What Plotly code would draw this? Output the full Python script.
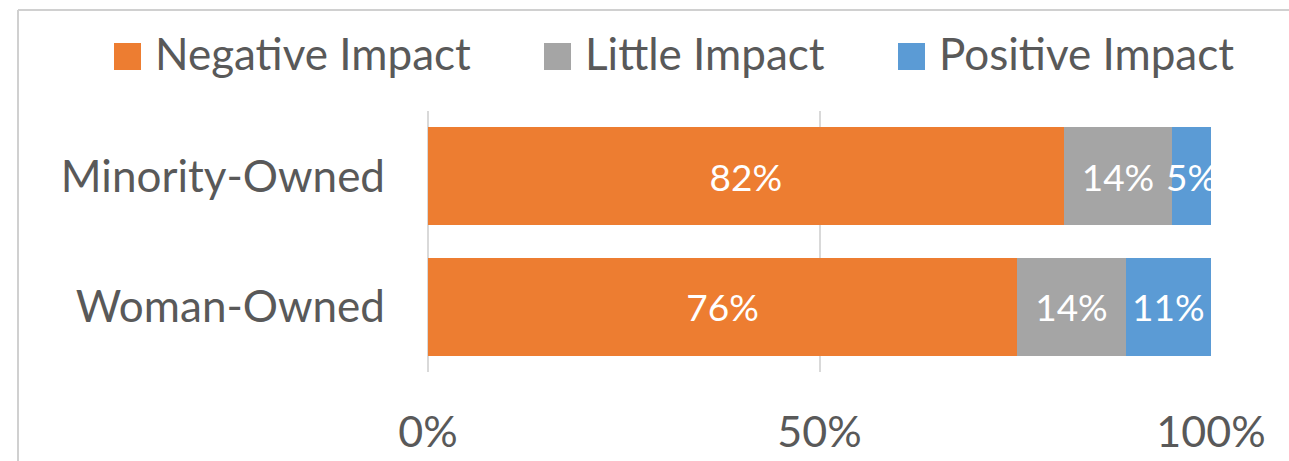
import plotly.graph_objects as go

# Survey results: share of firms reporting each impact, by ownership type
categories = ["Minority-Owned", "Woman-Owned"]
series_names = ["Negative Impact", "Little Impact", "Positive Impact"]
negative = [82, 76]
little = [14, 14]
positive = [5, 11]
x_tick_vals = [0, 50, 100]
x_tick_text = ["0%", "50%", "100%"]

colors = ["#ED7D31", "#A5A5A5", "#5B9BD5"]
text_color = "#595959"
grid_color = "#D9D9D9"
font_family = "Lato, 'Open Sans', sans-serif"

# page geometry (pixels)
W, H = 1289, 461
M_L, M_R, M_T, M_B = 428, 78, 111, 89
PW, PH = W - M_L - M_R, H - M_T - M_B


def paper_x(px):
    return (px - M_L) / PW


def paper_y(py):
    return (H - M_B - py) / PH


fig = go.Figure()
for name, vals, col in zip(series_names, [negative, little, positive], colors):
    fig.add_trace(go.Bar(
        name=name,
        y=categories,
        x=vals,
        orientation="h",
        marker=dict(color=col, line=dict(width=0)),
        text=[f"{v}%" for v in vals],
        textposition="inside",
        insidetextanchor="middle",
        textangle=0,
        textfont=dict(color="white", size=37, family=font_family),
        cliponaxis=True,
        showlegend=False,
        hoverinfo="skip",
    ))

# legend drawn as squares + labels across the top
legend_sq_left = [114, 544, 898]
sq = 27
shapes = []
annotations = []
for name, col, left in zip(series_names, colors, legend_sq_left):
    shapes.append(dict(
        type="rect", xref="paper", yref="paper",
        x0=paper_x(left), x1=paper_x(left + sq),
        y0=paper_y(43 + sq), y1=paper_y(43),
        fillcolor=col, line=dict(width=0),
    ))
    annotations.append(dict(
        xref="paper", yref="paper",
        x=paper_x(left + sq + 12), y=paper_y(53),
        xanchor="left", yanchor="middle",
        text=name, showarrow=False,
        font=dict(size=44, color=text_color, family=font_family),
    ))

# chart frame (top and left edges)
frame = dict(color="#D0D0D0", width=2)
shapes.append(dict(type="line", xref="paper", yref="paper",
                   x0=paper_x(18), x1=paper_x(W + 20),
                   y0=paper_y(10), y1=paper_y(10), line=frame))
shapes.append(dict(type="line", xref="paper", yref="paper",
                   x0=paper_x(18), x1=paper_x(18),
                   y0=paper_y(10), y1=paper_y(H + 20), line=frame))

fig.update_layout(
    width=W, height=H,
    margin=dict(l=M_L, r=M_R, t=M_T, b=M_B, pad=0, autoexpand=False),
    barmode="stack",
    barnorm="percent",
    bargap=0.25,
    paper_bgcolor="white",
    plot_bgcolor="white",
    font=dict(family=font_family, color=text_color),
    uniformtext=dict(minsize=37, mode="show"),
    shapes=shapes,
    annotations=annotations,
    xaxis=dict(
        range=[0, 100],
        tickvals=x_tick_vals,
        ticktext=x_tick_text,
        showgrid=True, gridcolor=grid_color, gridwidth=2,
        zeroline=True, zerolinecolor=grid_color, zerolinewidth=2,
        showline=False, ticks="",
        tickfont=dict(size=43, color=text_color, family=font_family),
        ticklabelstandoff=31,
        automargin=False,
        fixedrange=True,
    ),
    yaxis=dict(
        autorange="reversed",
        showgrid=False, zeroline=False, showline=False, ticks="",
        tickfont=dict(size=44, color=text_color, family=font_family),
        ticklabelstandoff=42,
        automargin=False,
        fixedrange=True,
    ),
)

fig.write_html("out.html", config={"displayModeBar": False})
